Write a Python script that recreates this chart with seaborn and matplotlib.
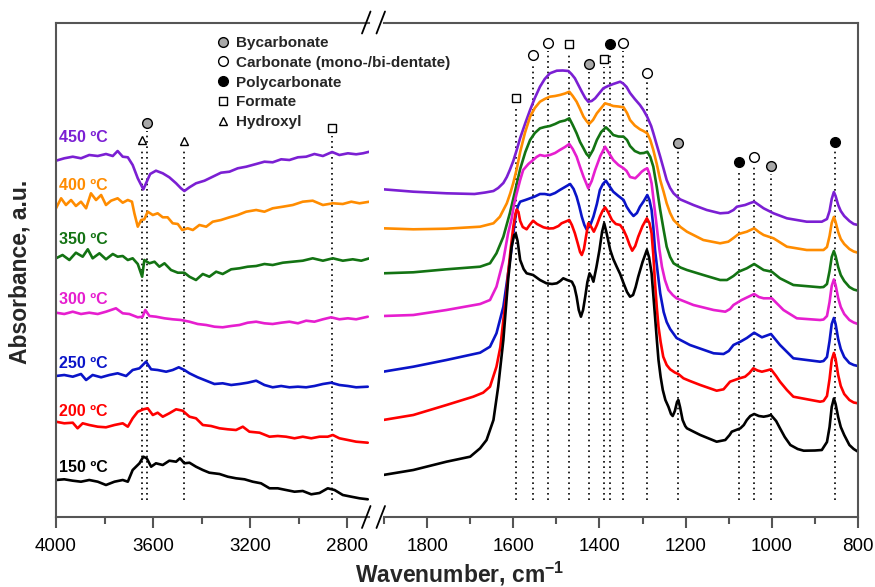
import matplotlib
matplotlib.use("Agg")
import matplotlib.pyplot as plt
from matplotlib.lines import Line2D
from matplotlib.ticker import MultipleLocator
import seaborn as sns

# temperatures, colours and where the labels sit (absorbance, stacked a.u.)
temps = ["450 ºC", "400 ºC", "350 ºC", "300 ºC", "250 ºC", "200 ºC", "150 ºC"]
colors = ["#7b1fd3", "#ff8c00", "#137313", "#e61ecf", "#0a14c8", "#ff0000", "#000000"]
label_y = [379, 331, 278, 217, 154, 106, 50]

# ---- high wavenumber region (4000-2700 cm-1) ----
wn_hi_450 = [4000,3966,3931,3897,3863,3828,3794,3766,3746,3725,3704,3684,3663,3649,3640,3629,3612,3588,3560,3533,
             3505,3485,3471,3450,3423,3388,3354,3320,3285,3251,3216,3175,3141,3107,3072,3038,3003,2969,2935,2900,
             2862,2832,2797,2763,2735,2708]
a_hi_450 = [356.3,358.7,360.3,358.7,362,361,363,361,366,360.3,359.7,352,338.7,332,327.7,333.7,343,346.3,343.7,339.7,
            333.7,328.7,326,329.7,333.7,336.3,340.3,344.3,345.3,348.7,350.3,353,355.3,354.7,357.7,357,359.7,360.3,363,361,
            365,362,363.7,362.7,363.7,365.3]

wn_hi_400 = [4000,3979,3959,3938,3918,3897,3876,3856,3835,3814,3794,3773,3746,3725,3704,3687,3677,3663,3649,3636,
             3622,3601,3581,3560,3540,3519,3498,3480,3457,3436,3409,3381,3354,3320,3285,3251,3216,3175,3141,3107,
             3065,3024,2983,2942,2900,2859,2818,2783,2749,2708]
a_hi_400 = [308.7,318.7,312,317,311,315.3,308.7,323.7,317,322,312,316.3,318.7,314.3,317,315.3,303.7,290.3,297,297.7,
            305.3,302,303.7,299.7,299.7,293.7,293,287,288.7,287,292,290.3,295.3,297,299.7,302,305.3,307,305.3,308.7,
            310.3,312,315.3,316.3,312,313.7,313,315.3,313.7,315.3]

wn_hi_350 = [4000,3973,3945,3918,3890,3869,3849,3821,3794,3766,3746,3725,3704,3684,3663,3645,3636,3615,3594,3574,
             3553,3526,3498,3471,3450,3423,3395,3368,3340,3313,3278,3244,3210,3175,3141,3107,3065,3024,2983,2942,
             2900,2859,2818,2777,2742,2708]
a_hi_350 = [258.7,262,257,264.3,260.3,267.7,258.7,263.7,257.7,263,260.3,261,257,258.7,253,240.3,257,253.7,255.3,250.3,
            253.7,247,244.3,244.3,240.3,237,243,240.3,245.3,243,247.7,248.7,250.3,251,253,252,254.3,255.3,256.3,258.7,
            256.3,258.7,256.3,257.7,256.3,258.7]

wn_hi_300 = [4000,3966,3931,3897,3863,3828,3794,3753,3725,3698,3663,3643,3632,3615,3588,3553,3519,3485,3450,3416,
             3381,3347,3313,3278,3244,3210,3175,3141,3107,3072,3038,3003,2969,2935,2900,2866,2832,2797,2763,2715]
a_hi_300 = [204.3,203,205.3,203,204.3,203,205.3,208.7,203.7,203,199.7,200.3,207,201,200.3,198.7,197.7,197,195.3,193,
            192,190.3,189.7,191,192,194.3,195.3,193.7,193,194.3,195.3,193.7,196.3,195.3,197.7,199.7,197.7,198.7,197.7,200.3]

wn_hi_250 = [4000,3966,3931,3897,3876,3849,3814,3780,3746,3711,3684,3656,3629,3608,3581,3546,3519,3494,3471,3450,
             3416,3381,3347,3313,3278,3244,3210,3175,3141,3107,3072,3038,3003,2969,2935,2900,2866,2832,2797,2763,2715]
a_hi_250 = [141,142,140.3,143,137,142,139.7,142,143.7,141,147,148.7,155.3,147.7,147,145.3,147,149.7,147,143.7,
            139.7,136.3,133,133.7,132,133,134.3,136.3,132,129.7,131,129.7,130.3,129.7,131,133,134.3,132,131,129.7,130.3]

wn_hi_200 = [4000,3966,3931,3911,3890,3863,3828,3794,3759,3725,3704,3684,3663,3640,3622,3601,3581,3560,3533,3505,
             3478,3450,3423,3395,3361,3326,3292,3258,3230,3203,3161,3120,3086,3052,3017,2983,2948,2914,2880,2859,
             2832,2797,2763,2715]
a_hi_200 = [95.3,93.7,94.3,88.7,93.7,92,90.3,89.7,92,93.7,90.3,98.7,105.3,107.7,108.7,102,104.3,100.3,103.7,107.7,
            106.3,100.3,98.7,92,91,88.7,87.7,87,90.3,85.3,84.3,80.3,81,80.3,78.7,80.3,78.7,80.3,80.3,82,
            78.7,77,75.3,74.3]

wn_hi_150 = [4000,3966,3931,3897,3863,3828,3794,3759,3725,3704,3684,3656,3640,3626,3608,3588,3560,3533,3505,3489,
             3471,3450,3423,3395,3368,3326,3292,3258,3223,3189,3155,3120,3086,3052,3017,2983,2948,2914,2880,2852,
             2818,2783,2749,2715]
a_hi_150 = [37,37.7,36.3,35.3,37,35.3,32,35.3,37,35.3,47,53.7,60.3,58.7,50.3,53.7,52,56.3,55.3,58.7,
            53.7,54.3,50.3,47,44.3,43,40.3,38.7,37.7,35.3,33.7,28.7,28.7,27,25.3,26,22.7,24,28.7,27,
            22,20.3,18.7,17.7]

# ---- low wavenumber region (1900-800 cm-1) ----
wn_lo_450 = [1902,1832,1755,1690,1665,1646,1635,1623,1615,1608,1600,1592,1584,1572,1561,1550,1538,1527,1515,1499,
             1485,1472,1465,1457,1449,1441,1433,1426,1418,1410,1400,1391,1380,1368,1352,1345,1337,1329,1318,1306,
             1298,1289,1280,1275,1267,1259,1251,1244,1236,1228,1213,1182,1151,1120,1101,1089,1081,1062,1050,1041,
             1030,1019,996,965,919,884,872,866,861,856,852,846,840,832,820,810,800]
a_lo_450 = [327.7,325.3,323.7,323,324.5,326,329,334,340,347,356,367,379,394,407,419,430.3,438,443.7,446.3,
            446.5,446,443,438.7,432,425.3,419,415.3,416,418.7,424,428.7,431,433,435.3,433.5,430,424,418,412,
            407,400,391,384,372,360.3,348,337,329,323.7,317.7,312,307,303.7,304.3,307,310.3,312,314,315.3,
            312,308.7,303.7,298.7,295.3,295.3,298,306,318,325,321,312,306,301,296,293,292]

wn_lo_400 = [1902,1832,1755,1677,1646,1631,1615,1607,1600,1592,1584,1573,1561,1550,1538,1527,1515,1503,1492,1480,
             1470,1462,1453,1445,1437,1430,1424,1415,1406,1396,1387,1378,1368,1356,1344,1336,1329,1318,1306,1298,
             1289,1282,1275,1267,1259,1251,1244,1236,1228,1212,1197,1159,1120,1101,1089,1077,1058,1041,1030,1019,
             996,965,919,880,872,866,861,856,852,846,840,832,820,810,800]
a_lo_400 = [288.7,287.7,288.3,290.3,293.7,300.3,313.7,323.7,334,348,365,384,400.3,409,415.3,418,420.3,421,422,423.5,
            425.3,421,415.3,408,400.3,396,393,397,403.7,409,413.7,412.5,411,410.5,409.7,404,397,391.5,387.7,386,
            383.7,377,367,353,337,325,313.7,304,297,290,285.3,277,273.7,275.3,279,283,285.3,288.7,285,282,
            278.7,270.3,267,267,270,281,294,300,295,285,278,273,268,265.5,264.3]

wn_lo_350 = [1902,1832,1755,1677,1654,1639,1623,1608,1597,1584,1572,1561,1550,1538,1527,1515,1503,1492,1480,1470,
             1462,1453,1445,1437,1430,1424,1415,1406,1396,1385,1376,1368,1356,1344,1336,1329,1318,1306,1297,1289,
             1282,1275,1267,1259,1251,1244,1236,1228,1212,1197,1159,1120,1104,1089,1077,1058,1041,1030,1019,1000,
             981,950,888,880,872,866,861,856,852,846,840,832,820,810,800]
a_lo_350 = [243.7,244.7,247.7,250.3,253.7,263.7,280.3,303.7,323.7,348,365,377,384,388.7,390,391,393,395.3,396.5,398.7,
            392,383.7,375,368.7,363,360.3,367,377,385,389.7,386,382,380.5,380.3,377,371,366,363.7,364,365.3,
            360,350.3,330,307,287,270.3,260,253.7,249.5,247,242,237,237,241,245.3,248.7,253,250,247,245.3,
            238.7,232,229.7,230,233,246,260,266,261,250,242,236,230,227.5,226.3]

wn_lo_300 = [1902,1832,1755,1677,1654,1639,1623,1612,1604,1598,1592,1584,1577,1565,1554,1546,1538,1527,1515,1503,
             1492,1480,1470,1462,1453,1445,1437,1430,1426,1418,1410,1398,1387,1378,1368,1356,1344,1337,1329,1317,
             1309,1302,1295,1289,1284,1279,1273,1267,1261,1255,1248,1240,1230,1221,1182,1135,1108,1097,1089,1070,
             1041,1030,1019,1000,973,942,888,880,872,866,861,856,852,846,840,832,820,810,800]
a_lo_300 = [201,202,207,213,217,230.3,257,283.7,298,313,323.7,337,347,353,357,360,362,361,362,364,
            367,370,373,368,360.3,350,340.3,333,328.7,336,347,361,370.3,364,357,352,348.7,346,340,338.7,
            342,345.3,347.5,348.7,343,333.7,312,290.3,268,250.3,237,227,222,218.7,212,207,205.3,208,212,217,
            223,220,218.7,218.7,207,198.7,197,197.5,201,215,231,237.5,232,219,210,203,197,194.5,193]

wn_lo_250 = [1902,1832,1755,1677,1654,1639,1623,1612,1605,1600,1594,1589,1584,1572,1561,1550,1538,1527,1515,1503,
             1492,1480,1468,1460,1453,1447,1441,1435,1430,1422,1414,1406,1399,1392,1385,1377,1368,1356,1344,1337,
             1329,1321,1313,1306,1297,1289,1284,1279,1275,1271,1265,1259,1251,1244,1236,1221,1190,1135,1112,1100,
             1089,1073,1058,1041,1023,1002,981,950,888,880,872,866,861,856,852,846,840,832,820,810,800]
a_lo_250 = [145.3,150.3,157,164.3,170.3,183.7,210.3,243.7,265,283,303,311,315.3,317,318.7,320.5,323,323,322,324,
            327,330,333,328,320.3,311,300.3,292,287.7,291,300.3,313,327,333,336.3,331,325.3,321,317,310.3,
            305,301,304,310.3,316,322,317,307,290,267,245,223.7,205,195,188,179,172,163.7,163,166,
            172,175.3,179,184.3,179.7,183,172,158.7,155.3,156,160,176,193,199,193,178,168,160,154,152,151]

wn_lo_200 = [1902,1832,1755,1693,1670,1654,1639,1630,1623,1616,1612,1606,1600,1595,1592,1588,1584,1578,1569,1562,
             1554,1545,1530,1518,1507,1495,1488,1478,1470,1464,1457,1450,1445,1441,1436,1431,1426,1419,1413,1406,
             1399,1393,1387,1380,1371,1362,1352,1344,1337,1330,1324,1317,1310,1300,1290,1284,1279,1275,1271,1267,
             1263,1258,1252,1244,1236,1225,1217,1205,1190,1166,1128,1112,1097,1075,1062,1052,1043,1033,1023,1012,
             1002,990,981,965,950,888,880,872,866,861,856,852,846,840,832,820,810,800]
a_lo_200 = [97,102,112,120.3,124.3,130.3,150.3,170,197,222,243.7,268,290,303,307.5,305,296,290,287.7,292,
            296.3,293,289.7,288.5,288.7,291,293.7,295.5,297,292,283.7,273,265,262,268,281,293.7,290,285.3,292,
            300.3,306,309.7,305,297,293,292,287,280.3,272,266.3,271,280.3,291,298.7,294,283.7,262,233.7,210,
            190.3,175,160.3,152,147.7,144.5,143,138.7,136,132,126.3,127.7,135.3,138.7,140.3,144,148.7,146.5,145.3,146.5,
            147.7,141,135.3,127,120.3,115.3,116,121,138,157,164,158,142,131,123,117,114.5,113.7]

wn_lo_150 = [1902,1832,1755,1700,1677,1662,1646,1635,1623,1612,1604,1598,1594,1590,1584,1576,1569,1554,1538,1523,
             1510,1499,1491,1484,1475,1464,1458,1453,1448,1443,1438,1433,1428,1423,1418,1414,1407,1400,1394,1389,
             1384,1375,1368,1360,1352,1344,1336,1329,1322,1316,1310,1300,1290,1285,1279,1275,1271,1267,1263,1258,
             1253,1247,1240,1234,1230,1225,1220,1217,1213,1207,1201,1197,1180,1166,1128,1108,1098,1093,1080,1073,
             1065,1058,1050,1041,1030,1019,1010,1002,990,981,970,957,940,926,900,884,872,866,861,856,
             852,846,840,832,820,810,800]
a_lo_150 = [42,47,55.3,60.3,68.7,77,97,130.3,177,237,270,282,283,276,257,248,243.7,242,237,233.7,
            233,233.7,236,238.7,237,235.3,230,220.3,207,200.3,207,220.3,235,243.7,240,235.3,250,267,285,293.7,
            285,267,258,250.3,243,233.7,225,220.3,222,230,240.3,255,267,260,243.7,222,200.3,178,157,140,
            127,117,110.3,103,101,106,115,117,110,97,91,88.7,85,82,75.3,77,82,85.3,87.5,88.7,
            92,97,101,103,101,100.3,101,102,96,88.7,80,72,68,66.3,66.5,67,75,90,110,118.5,
            113,100,90,82,72,68,65.3]

# band assignments: position, species, height of the marker
band_wn_hi = [3646, 3625, 3471, 2863]
band_sp_hi = ["hydroxyl", "bicarbonate", "hydroxyl", "formate"]
band_top_hi = [377, 394, 376, 389]

band_wn_lo = [1594, 1555, 1519, 1470, 1424, 1389, 1375, 1345, 1290, 1217, 1076, 1041, 1001, 854]
band_sp_lo = ["formate", "carbonate", "carbonate", "formate", "bicarbonate", "formate", "polycarbonate",
              "carbonate", "carbonate", "bicarbonate", "polycarbonate", "carbonate", "bicarbonate", "polycarbonate"]
band_top_lo = [419, 462, 474, 473, 453, 458, 473, 474, 444, 374, 355, 360, 351, 375]

species = ["bicarbonate", "carbonate", "polycarbonate", "formate", "hydroxyl"]
species_names = ["Bycarbonate", "Carbonate (mono-/bi-dentate)", "Polycarbonate", "Formate", "Hydroxyl"]
sp_marker = {"bicarbonate": ("o", "#a8a8a8", 7), "carbonate": ("o", "white", 7),
             "polycarbonate": ("o", "black", 7), "formate": ("s", "white", 6.2), "hydroxyl": ("^", "white", 6)}

hi_curves = [(wn_hi_450, a_hi_450), (wn_hi_400, a_hi_400), (wn_hi_350, a_hi_350), (wn_hi_300, a_hi_300),
             (wn_hi_250, a_hi_250), (wn_hi_200, a_hi_200), (wn_hi_150, a_hi_150)]
lo_curves = [(wn_lo_450, a_lo_450), (wn_lo_400, a_lo_400), (wn_lo_350, a_lo_350), (wn_lo_300, a_lo_300),
             (wn_lo_250, a_lo_250), (wn_lo_200, a_lo_200), (wn_lo_150, a_lo_150)]

# ---------------------------------------------------------------------
sns.set_theme(style="white")
plt.rcParams["font.family"] = ["Liberation Sans", "DejaVu Sans"]
plt.rcParams["mathtext.fontset"] = "custom"
plt.rcParams["mathtext.rm"] = "Liberation Sans"
plt.rcParams["mathtext.bf"] = "Liberation Sans:bold"

W, H = 875, 587
fig = plt.figure(figsize=(W / 100, H / 100), dpi=100)
ax1 = fig.add_axes([56 / W, 70 / H, (369 - 56) / W, 494 / H])
ax2 = fig.add_axes([384 / W, 70 / H, (858 - 384) / W, 494 / H])
spine_col = "#555555"

for (wn, a), c in zip(hi_curves, colors):
    sns.lineplot(x=wn, y=a, ax=ax1, color=c, linewidth=1.9, sort=False, estimator=None)
for (wn, a), c in zip(lo_curves, colors):
    sns.lineplot(x=wn, y=a, ax=ax2, color=c, linewidth=1.9, sort=False, estimator=None)

# dotted band lines with species markers
for ax, bw, bs, bt in [(ax1, band_wn_hi, band_sp_hi, band_top_hi), (ax2, band_wn_lo, band_sp_lo, band_top_lo)]:
    for w, s, t in zip(bw, bs, bt):
        ax.plot([w, w], [17, t - 8], color="black", lw=1.2, ls=(0, (1, 2.2)), zorder=1)
        m, fc, ms = sp_marker[s]
        ax.plot(w, t, marker=m, ms=ms, mfc=fc, mec="black", mew=1.0, ls="none", zorder=5, clip_on=False)

for t, c, y in zip(temps, colors, label_y):
    ax1.text(3988, y, t, color=c, fontsize=11.5, fontweight="bold", ha="left", va="center")

ax1.set_xlim(4000, 2710)
ax2.set_xlim(1900, 800)
ax1.xaxis.set_major_locator(MultipleLocator(400))
ax1.xaxis.set_minor_locator(MultipleLocator(200))
ax2.xaxis.set_major_locator(MultipleLocator(200))
ax2.xaxis.set_minor_locator(MultipleLocator(100))

for ax in (ax1, ax2):
    ax.set_ylim(0, 494)
    ax.set_yticks([])
    ax.set_xlabel("")
    ax.set_ylabel("")
    for sp in ax.spines.values():
        sp.set_color(spine_col)
        sp.set_linewidth(1.5)
    ax.tick_params(axis="x", which="major", bottom=True, direction="out", length=8, width=1.5,
                   color=spine_col, labelsize=13.5, labelcolor="black", pad=7)
    ax.tick_params(axis="x", which="minor", bottom=True, direction="out", length=5, width=1.5, color=spine_col)
ax1.spines["right"].set_visible(False)
ax2.spines["left"].set_visible(False)

# axis break marks
for x0 in (362, 376.5):
    for yc in (22.5, 517):
        fig.add_artist(Line2D([x0 / W, (x0 + 8.5) / W], [1 - (yc + 11) / H, 1 - (yc - 11) / H],
                              color="black", lw=1.3, transform=fig.transFigure))

handles = []
for s in species:
    m, fc, ms = sp_marker[s]
    handles.append(Line2D([], [], marker=m, ms=ms, mfc=fc, mec="black", mew=1.0, ls="none"))
fig.legend(handles, species_names, loc="upper left", bbox_to_anchor=(215 / W, 1 - 36 / H),
           frameon=False, prop={"weight": "bold", "size": 11}, handlelength=1.0,
           handletextpad=0.4, labelspacing=0.38, borderpad=0, borderaxespad=0)

fig.text(20 / W, 1 - 272 / H, "Absorbance, a.u.", rotation=90, ha="center", va="center",
         fontsize=16.5, fontweight="bold")
fig.text(460 / W, 1 - 574 / H, r"Wavenumber, cm$^{\mathbf{-1}}$", ha="center", va="center",
         fontsize=16.5, fontweight="bold")

fig.savefig("out.png", dpi=100)
